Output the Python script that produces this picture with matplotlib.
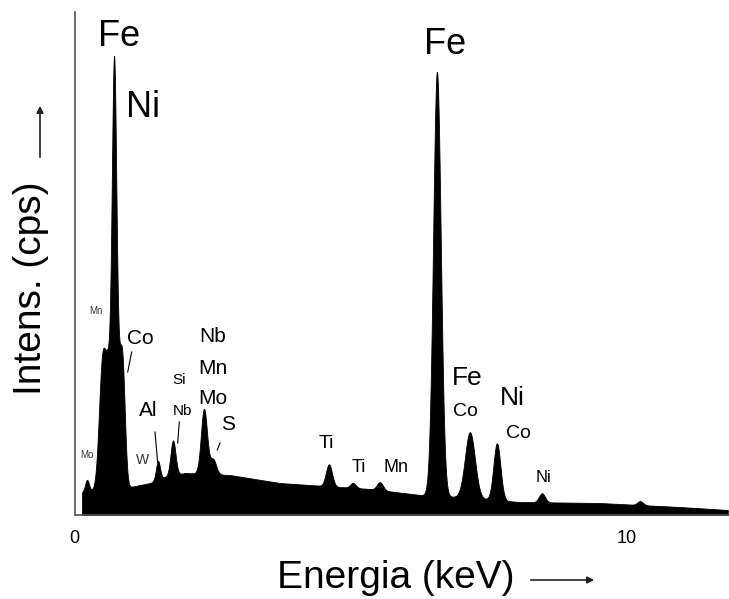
import numpy as np
import matplotlib
matplotlib.use("Agg")
import matplotlib.pyplot as plt

plt.rcParams['font.family'] = ['Liberation Sans', 'DejaVu Sans']

# continuum (keV, counts)
bg_energy = [0.136, 0.37, 1.01, 1.37, 1.64, 2.00, 2.81, 3.72, 4.26,
             5.35, 6.26, 6.89, 8.06, 9.51, 10.96, 11.83]
bg_counts = [22, 25, 28, 32, 38, 42, 40, 32, 30,
             26, 20, 18, 13, 12, 8, 5]

# peaks: centre (keV), height above continuum, sigma (keV)
peak_energy = [0.226, 0.50, 0.62, 0.715, 0.78, 0.87, 1.511, 1.783, 2.344,
               2.507, 4.606, 5.041, 5.529, 6.561, 7.158, 7.647, 8.462, 10.24]
peak_height = [12, 120, 110, 345, 100, 100, 19, 35, 65,
               15, 22, 5, 8, 424, 66, 57, 9, 4]
peak_sigma = [0.036, 0.06, 0.06, 0.04, 0.06, 0.045, 0.036, 0.045, 0.055,
              0.055, 0.055, 0.05, 0.055, 0.069, 0.09, 0.063, 0.055, 0.05]

# element labels: text, energy, height, font size
label_text = ["Fe", "Ni", "Fe", "Mn", "Co", "Mo", "W", "Al", "Si", "Nb",
              "Nb", "Mn", "Mo", "S", "Ti", "Ti", "Mn", "Fe", "Co", "Ni",
              "Co", "Ni"]
label_x = [0.805, 1.24, 6.706, 0.389, 1.186, 0.226, 1.24, 1.33, 1.89, 1.946,
           2.507, 2.507, 2.507, 2.778, 4.552, 5.149, 5.819, 7.104, 7.068,
           7.919, 8.045, 8.497]
label_y = [478, 408, 470, 204, 177, 60, 55, 104, 135, 104,
           178, 147, 117, 90, 72, 47, 47, 137, 103, 117, 82, 37]
label_size = [26, 26, 26, 7, 15, 7, 10, 15, 11, 11,
              15, 15, 15, 15, 14, 13, 13, 19, 14, 19, 14, 12]

# leader lines (x1, y1, x2, y2)
leaders = [(1.035, 163, 0.963, 143), (1.457, 83, 1.506, 52),
           (1.897, 93, 1.868, 72), (2.633, 72, 2.585, 65)]

energy = np.arange(0.136, 11.83, 0.005)
counts = np.interp(energy, bg_energy, bg_counts)
for e0, h, s in zip(peak_energy, peak_height, peak_sigma):
    counts = counts + h * np.exp(-0.5 * ((energy - e0) / s) ** 2)

fig = plt.figure(figsize=(7.29, 5.99), dpi=100)
ax = fig.add_axes([74.5 / 729, 84 / 599, (728 - 74.5) / 729, (587 - 84) / 599])
ax.fill_between(energy, 0, counts, color='black', linewidth=0.6)
ax.set_xlim(0, 11.83)
ax.set_ylim(0, 503)

for s in ['top', 'right']:
    ax.spines[s].set_visible(False)
for s in ['left', 'bottom']:
    ax.spines[s].set_color('#555555')
    ax.spines[s].set_linewidth(1.2)
ax.set_yticks([])
ax.set_xticks([0, 10])
ax.set_xticklabels(['0', '10'])
ax.tick_params(axis='x', length=0, pad=11, labelsize=13)

for t, x, y, fs in zip(label_text, label_x, label_y, label_size):
    col = '#333333' if fs < 11 else 'black'
    ax.text(x, y, t, ha='center', va='center', fontsize=fs, color=col)

for x1, y1, x2, y2 in leaders:
    ax.plot([x1, x2], [y1, y2], color='black', linewidth=0.8)

fig.text(396 / 729, 21 / 599, "Energia (keV)", ha='center', va='center',
         fontsize=28)
fig.text(31 / 729, 311 / 599, "Intens. (cps)", ha='center', va='center',
         fontsize=28, rotation=90)

arrow = dict(arrowstyle='-|>', color='#222222', lw=1.2, mutation_scale=10)
ax.annotate('', xy=(597, 19), xytext=(528, 19), xycoords='figure pixels',
            textcoords='figure pixels', arrowprops=arrow, annotation_clip=False)
ax.annotate('', xy=(40, 496), xytext=(40, 439), xycoords='figure pixels',
            textcoords='figure pixels', arrowprops=arrow, annotation_clip=False)

fig.savefig("out.png", dpi=100)
